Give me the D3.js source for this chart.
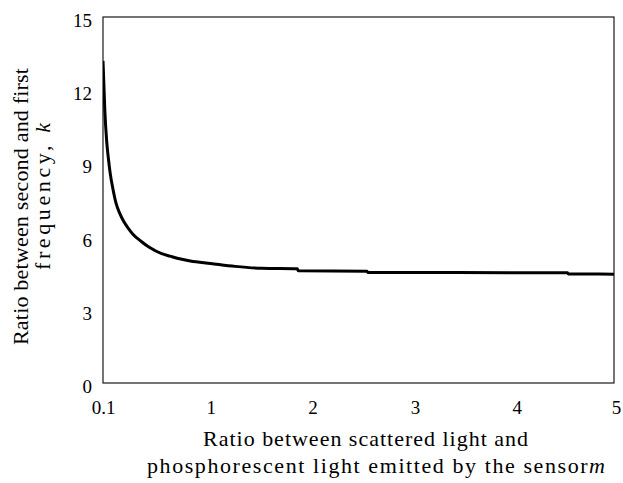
<!DOCTYPE html>
<html>
<head>
<meta charset="utf-8">
<script src="https://cdn.jsdelivr.net/npm/d3@7"></script>
<style>
  html, body { margin: 0; padding: 0; background: #fff; }
  svg { display: block; }
  svg text { font-family: "Liberation Serif", "DejaVu Serif", serif !important; }
</style>
</head>
<body>
<svg id="chart" width="623" height="483"></svg>
<script>
// ---- data ----
const mRatio = [0.1, 0.115, 0.13, 0.145, 0.16, 0.185, 0.21, 0.24, 0.27, 0.31, 0.35, 0.42, 0.49, 0.59, 0.66, 0.75, 0.83, 1.0, 1.24, 1.5, 1.85, 1.86, 2.53, 2.54, 4.49, 4.5, 5];
const kRatio = [13.2, 11.2, 9.95, 9.2, 8.6, 7.9, 7.35, 6.95, 6.65, 6.35, 6.1, 5.8, 5.55, 5.3, 5.2, 5.08, 5.0, 4.9, 4.78, 4.7, 4.68, 4.6, 4.58, 4.53, 4.52, 4.47, 4.46];
const xTickValues = [0.1, 1, 2, 3, 4, 5];
const xTickLabels = ["0.1", "1", "2", "3", "4", "5"];
const yTickValues = [0, 3, 6, 9, 12, 15];
const xTitleLines = ["Ratio between scattered light and", "phosphorescent light emitted by the sensor"];
const xTitleItalic = "m";
const yTitleLines = ["Ratio between second and first", "frequency, "];
const yTitleItalic = "k";

// ---- layout ----
const plot = { left: 103, top: 17, right: 614, bottom: 383 };
const svg = d3.select("#chart");

const x = d3.scaleLinear()
  .domain(xTickValues)
  .range([103, 210.7, 312.5, 415, 516.7, 620]);
const y = d3.scaleLinear().domain([0, 15]).range([plot.bottom, plot.top]);

// clip
svg.append("defs").append("clipPath").attr("id", "clip")
  .append("rect")
  .attr("x", plot.left).attr("y", plot.top - 5)
  .attr("width", plot.right - plot.left).attr("height", plot.bottom - plot.top + 10);

// frame
svg.append("rect")
  .attr("x", plot.left).attr("y", plot.top)
  .attr("width", plot.right - plot.left).attr("height", plot.bottom - plot.top)
  .attr("fill", "none").attr("stroke", "#1a1a1a").attr("stroke-width", 1.2);

// y axis
const yAxis = d3.axisLeft(y).tickValues(yTickValues).tickSize(0).tickPadding(0);
const gy = svg.append("g").attr("transform", `translate(${plot.left - 11},0)`).call(yAxis);
gy.attr("font-family", null).attr("font-size", 19);
gy.select(".domain").remove();
gy.selectAll("text")
  .attr("dy", "0.5em")
  .attr("fill", "#000");

// x axis
const xAxis = d3.axisBottom(x).tickValues(xTickValues)
  .tickFormat((d, i) => xTickLabels[i]).tickSize(0).tickPadding(0);
const gx = svg.append("g").attr("transform", `translate(0,${plot.bottom + 17})`).call(xAxis);
gx.attr("font-family", null).attr("font-size", 19);
gx.select(".domain").remove();
gx.selectAll("text")
  .attr("dy", "0.75em")
  .attr("fill", "#000")
  .attr("dx", (d, i) => i === xTickValues.length - 1 ? -4 : 0);

// curve
const data = mRatio.map((m, i) => ({ m, k: kRatio[i] }));
const line = d3.line().x(d => x(d.m)).y(d => y(d.k)).curve(d3.curveMonotoneX);
svg.append("path")
  .datum(data)
  .attr("clip-path", "url(#clip)")
  .attr("d", line)
  .attr("fill", "none")
  .attr("stroke", "#000")
  .attr("stroke-width", 3)
  .attr("stroke-linejoin", "round");

// x title
svg.append("text")
  .attr("x", 203).attr("y", 446)
  .attr("font-size", 22)
  .attr("textLength", 325).attr("lengthAdjust", "spacing")
  .text(xTitleLines[0]);
const xt2 = svg.append("text")
  .attr("x", 147).attr("y", 473)
  .attr("font-size", 22)
  .attr("textLength", 458).attr("lengthAdjust", "spacing");
xt2.append("tspan").text(xTitleLines[1]);
xt2.append("tspan").attr("font-style", "italic").text(xTitleItalic);

// y title
svg.append("text")
  .attr("transform", "translate(28,345) rotate(-90)")
  .attr("font-size", 22)
  .attr("textLength", 277).attr("lengthAdjust", "spacing")
  .text(yTitleLines[0]);
const yt2 = svg.append("text")
  .attr("transform", "translate(50,270) rotate(-90)")
  .attr("font-size", 22)
  .attr("textLength", 147).attr("lengthAdjust", "spacing");
yt2.append("tspan").text(yTitleLines[1]);
yt2.append("tspan").attr("font-style", "italic").text(yTitleItalic);
</script>
</body>
</html>
